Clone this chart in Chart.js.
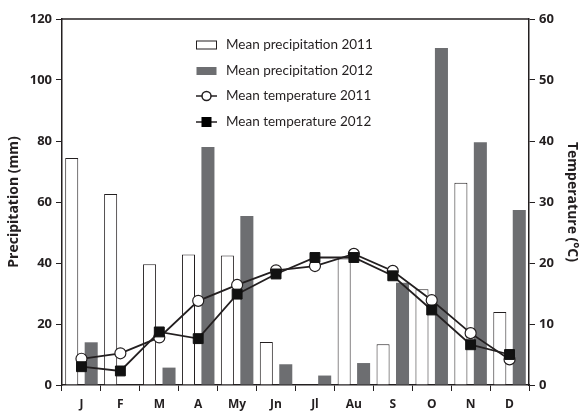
<!DOCTYPE html>
<html>
<head>
<meta charset="utf-8">
<script src="https://cdn.jsdelivr.net/npm/chart.js@4/dist/chart.umd.min.js"></script>
<style>
  html, body { margin: 0; padding: 0; background: #fff; }
  #wrap { width: 584px; height: 411px; position: relative; }
</style>
</head>
<body>
<div id="wrap"><canvas id="c"></canvas></div>
<script>
// Monthly climate data
const months = ['J', 'F', 'M', 'A', 'My', 'Jn', 'Jl', 'Au', 'S', 'O', 'N', 'D'];
const precip2011 = [74.4, 62.6, 39.6, 42.8, 42.5, 14.1, 0, 41.5, 13.4, 31.4, 66.3, 23.9];
const precip2012 = [14.0, 0, 5.7, 78.0, 55.4, 6.8, 3.1, 7.2, 33.5, 110.5, 79.6, 57.4];
const temp2011 = [4.3, 5.2, 7.8, 13.8, 16.4, 18.8, 19.5, 21.5, 18.7, 13.9, 8.5, 4.2];
const temp2012 = [3.0, 2.3, 8.7, 7.6, 14.9, 18.2, 20.9, 20.9, 17.9, 12.3, 6.6, 5.0];
const precipTicks = [0, 20, 40, 60, 80, 100, 120];
const tempTicks = [0, 10, 20, 30, 40, 50, 60];

const FONT = 'Lato, "Open Sans", sans-serif';
const BOLD = '"Open Sans", sans-serif';
const INK = '#231f20';
const GREY = '#6d6e71';

// Frame line along the top of the plot area, plus the in-plot legend
const framePlugin = {
  id: 'frame',
  afterDraw(chart) {
    const { ctx, chartArea: a } = chart;
    ctx.save();
    ctx.strokeStyle = INK;
    ctx.lineWidth = 1.5;
    ctx.beginPath();
    ctx.moveTo(a.left, a.top);
    ctx.lineTo(a.right, a.top);
    ctx.stroke();

    const x0 = 196, rows = [45, 71, 96, 122];
    ctx.font = '13.5px ' + FONT;
    ctx.textBaseline = 'middle';
    ctx.fillStyle = INK;
    chart.data.datasets.forEach((ds, i) => {
      const y = rows[i];
      if (ds.type === 'line') {
        ctx.strokeStyle = INK;
        ctx.lineWidth = 1.5;
        ctx.beginPath();
        ctx.moveTo(x0, y);
        ctx.lineTo(x0 + 21, y);
        ctx.stroke();
        if (ds.pointStyle === 'rect') {
          ctx.fillStyle = '#000';
          ctx.fillRect(x0 + 5.5, y - 5, 10, 10);
        } else {
          ctx.fillStyle = '#fff';
          ctx.beginPath();
          ctx.arc(x0 + 10.5, y, 4.5, 0, Math.PI * 2);
          ctx.fill();
          ctx.stroke();
        }
      } else {
        ctx.fillStyle = ds.backgroundColor;
        ctx.fillRect(x0 + 0.5, y - 4, 20, 8);
        if (ds.borderWidth) {
          ctx.strokeStyle = ds.borderColor;
          ctx.lineWidth = 1;
          ctx.strokeRect(x0 + 0.5, y - 4, 20, 8);
        }
      }
      ctx.fillStyle = INK;
      ctx.fillText(ds.label, x0 + 30, y);
    });
    ctx.restore();
  }
};

const tickFont = { family: BOLD, size: 13, weight: 'bold' };
const titleFont = { family: BOLD, size: 14, weight: 'bold' };

new Chart(document.getElementById('c'), {
  data: {
    labels: months,
    datasets: [
      { type: 'bar', label: 'Mean precipitation 2011', data: precip2011, yAxisID: 'y',
        backgroundColor: '#ffffff', borderColor: INK, borderWidth: 1, order: 3 },
      { type: 'bar', label: 'Mean precipitation 2012', data: precip2012, yAxisID: 'y',
        backgroundColor: GREY, borderColor: GREY, borderWidth: 0, order: 3 },
      { type: 'line', label: 'Mean temperature 2011', data: temp2011, yAxisID: 'y1',
        borderColor: INK, borderWidth: 1.8, pointStyle: 'circle', pointRadius: 5.5,
        pointBackgroundColor: '#fff', pointBorderColor: INK, pointBorderWidth: 1.2, order: 2 },
      { type: 'line', label: 'Mean temperature 2012', data: temp2012, yAxisID: 'y1',
        borderColor: INK, borderWidth: 1.8, pointStyle: 'rect', pointRadius: 7,
        pointBackgroundColor: '#111', pointBorderColor: '#111', pointBorderWidth: 1, order: 1 }
    ]
  },
  options: {
    responsive: true,
    maintainAspectRatio: false,
    animation: false,
    layout: { padding: { top: 19, left: 0, right: 0, bottom: 0 } },
    datasets: { bar: { categoryPercentage: 1, barPercentage: 0.67 } },
    plugins: { legend: { display: false }, tooltip: { enabled: false } },
    scales: {
      x: {
        offset: true,
        grid: { offset: true, drawOnChartArea: false, drawTicks: true, tickLength: 6, color: INK, lineWidth: 1 },
        border: { display: true, color: INK, width: 1.5 },
        ticks: { color: INK, font: { family: BOLD, size: 12, weight: 'bold' }, padding: 6, maxRotation: 0 },
        afterFit(s) { s.height = 26; }
      },
      y: {
        position: 'left',
        min: 0, max: 120,
        afterBuildTicks(s) { s.ticks = precipTicks.map(v => ({ value: v })); },
        grid: { drawOnChartArea: false, drawTicks: true, tickLength: 6, color: INK },
        border: { display: true, color: INK, width: 1.5 },
        ticks: { color: INK, font: tickFont, padding: 4 },
        title: { display: true, text: 'Precipitation (mm)', color: INK, font: titleFont, padding: { top: 6, bottom: 2 } },
        afterFit(s) { s.width = 62; }
      },
      y1: {
        position: 'right',
        min: 0, max: 60,
        afterBuildTicks(s) { s.ticks = tempTicks.map(v => ({ value: v })); },
        grid: { drawOnChartArea: false, drawTicks: true, tickLength: 6, color: INK },
        border: { display: true, color: INK, width: 1.5 },
        ticks: { color: INK, font: tickFont, padding: 4 },
        title: { display: true, text: 'Temperature (°C)', color: INK, font: titleFont, padding: { top: 4, bottom: 2 } },
        afterFit(s) { s.width = 55; }
      }
    }
  },
  plugins: [framePlugin]
});
</script>
</body>
</html>
